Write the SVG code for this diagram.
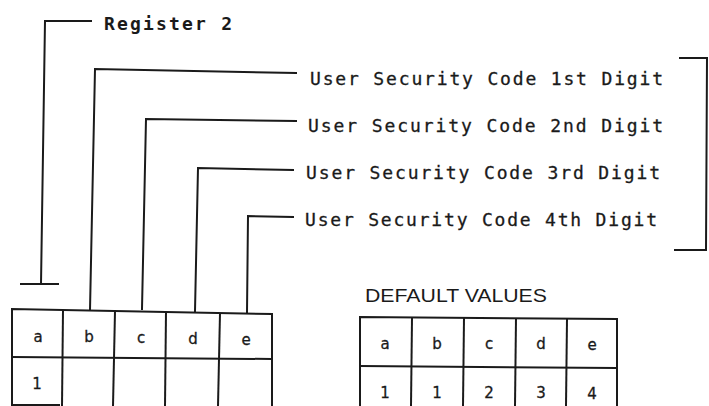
<svg xmlns="http://www.w3.org/2000/svg" width="709" height="406" viewBox="0 0 709 406">
<style>
.ln{stroke:#1a1a1a;stroke-width:2;fill:none;stroke-linecap:square}
.tb{stroke:#1a1a1a;stroke-width:2;fill:none}
.lbl{font-family:"DejaVu Sans Mono","Liberation Mono",monospace;font-size:18px;fill:#1a1a1a;stroke:#1a1a1a;stroke-width:0.3}
.reg{font-family:"DejaVu Sans Mono","Liberation Mono",monospace;font-size:18px;font-weight:bold;fill:#1a1a1a}
.cell{font-family:"DejaVu Sans","Liberation Sans",sans-serif;font-size:15px;fill:#1a1a1a;text-anchor:middle;stroke:#1a1a1a;stroke-width:0.3}
.hdr{font-family:"Liberation Sans",sans-serif;font-size:19px;fill:#1a1a1a}
</style>
<rect width="709" height="406" fill="#ffffff"/>
<g id="connectors">
<polyline class="ln" points="91,21 45,21 41,284"/>
<line class="ln" x1="21" y1="284" x2="58" y2="284"/>
<polyline class="ln" points="296,73 95,69 90,310"/>
<polyline class="ln" points="296,121 146,119 142,309"/>
<polyline class="ln" points="293,170 198,168 195,311"/>
<polyline class="ln" points="293,217 248,216 247,313"/>
<polyline class="ln" points="680,58 707,58 706,250 675,250"/>
</g>
<g id="register-label"><text class="reg" x="104" y="30" textLength="128" lengthAdjust="spacing">Register 2</text></g>
<g id="digit1-label"><text class="lbl" x="310" y="85" textLength="353" lengthAdjust="spacing">User Security Code 1st Digit</text></g>
<g id="digit2-label"><text class="lbl" x="308" y="132" textLength="355" lengthAdjust="spacing">User Security Code 2nd Digit</text></g>
<g id="digit3-label"><text class="lbl" x="306" y="179" textLength="354" lengthAdjust="spacing">User Security Code 3rd Digit</text></g>
<g id="digit4-label"><text class="lbl" x="305" y="226" textLength="352" lengthAdjust="spacing">User Security Code 4th Digit</text></g>
<g id="register-table">
<polyline class="tb" points="12,406 12,309 272,314 272,406"/>
<line class="tb" x1="12" y1="357" x2="272" y2="359"/>
<line class="tb" x1="63" y1="310" x2="62" y2="406"/>
<line class="tb" x1="115" y1="311" x2="113" y2="406"/>
<line class="tb" x1="166" y1="312" x2="165" y2="406"/>
<line class="tb" x1="220" y1="313" x2="218" y2="406"/>
<line class="tb" x1="12" y1="405" x2="60" y2="405"/>
<text class="cell" x="38" y="342">a</text>
<text class="cell" x="89" y="342">b</text>
<text class="cell" x="141" y="343">c</text>
<text class="cell" x="193" y="344">d</text>
<text class="cell" x="246" y="345">e</text>
<text class="cell" x="37" y="389">1</text>
</g>
<g id="default-values">
<text class="hdr" x="365" y="302" textLength="182" lengthAdjust="spacingAndGlyphs">DEFAULT VALUES</text>
<polyline class="tb" points="360,406 360,317 617,319 617,406"/>
<line class="tb" x1="360" y1="366" x2="617" y2="368"/>
<line class="tb" x1="412" y1="318" x2="411" y2="406"/>
<line class="tb" x1="464" y1="318" x2="463" y2="406"/>
<line class="tb" x1="516" y1="318" x2="515" y2="406"/>
<line class="tb" x1="567" y1="319" x2="566" y2="406"/>
<text class="cell" x="385" y="349">a</text>
<text class="cell" x="437" y="349">b</text>
<text class="cell" x="489" y="349">c</text>
<text class="cell" x="541" y="349">d</text>
<text class="cell" x="592" y="350">e</text>
<text class="cell" x="385" y="398">1</text>
<text class="cell" x="437" y="398">1</text>
<text class="cell" x="489" y="398">2</text>
<text class="cell" x="541" y="398">3</text>
<text class="cell" x="592" y="399">4</text>
</g>
</svg>
